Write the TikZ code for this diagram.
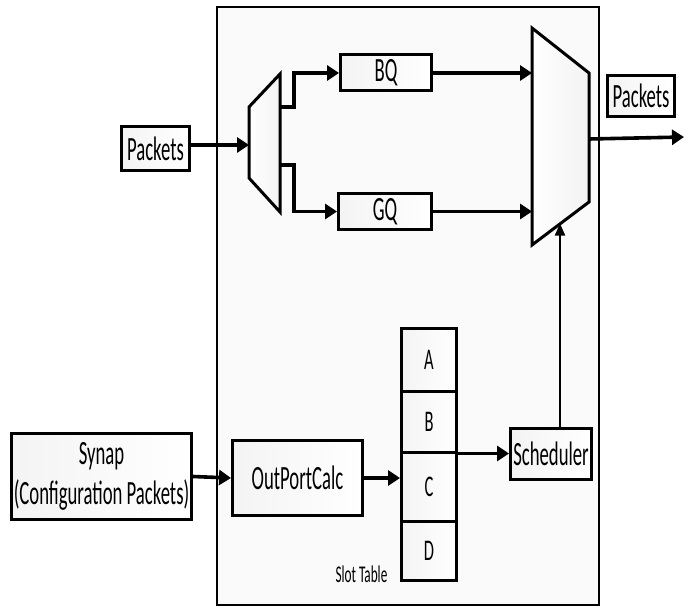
\documentclass[tikz,border=0pt]{standalone}
\usepackage{fontspec}
\setmainfont[FakeStretch=0.55]{Carlito}
\usetikzlibrary{arrows.meta}
\begin{document}
\begin{tikzpicture}[x=1pt,y=-1pt,
  blk/.style={draw,line width=3pt,left color=gray!9,right color=white,inner sep=0pt,
    font=\fontsize{34}{40}\selectfont,align=center},
  cell/.style={blk,font=\fontsize{30}{34}\selectfont,minimum width=55pt},
  mux/.style={draw,line width=3pt,left color=white,right color=gray!10,line join=miter},
  conn/.style={line width=3.6pt,-{Triangle[length=12pt,width=15pt]}},
  thinconn/.style={line width=2pt,-{Triangle[length=12pt,width=10pt]}},
  outline/.style={draw,line width=2.8pt,fill=gray!4}
]
\useasboundingbox (0,0) rectangle (684,607);
% outer box
\draw[outline] (217,7) rectangle (599,605);

% demux
\coordinate (dm1) at (249,107);
\coordinate (dm2) at (280,74);
\coordinate (dm3) at (280,212);
\coordinate (dm4) at (249,178);
\path[mux] (dm1) -- (dm2) -- (dm3) -- (dm4) -- cycle;
\coordinate (dmin) at (249,145);
\coordinate (dmo1) at (280,107);
\coordinate (dmo2) at (280,165);

% mux
\coordinate (mx1) at (532,28);
\coordinate (mx2) at (589,73);
\coordinate (mx3) at (589,202);
\coordinate (mx4) at (532,245);
\path[mux] (mx1) -- (mx2) -- (mx3) -- (mx4) -- cycle;
\coordinate (mxout) at (589,139);
\coordinate (mxsel) at (560,223.5);
\coordinate (outend) at (684,137);

% nodes
\node[blk,minimum width=68pt,minimum height=44pt] (pin) at (155.5,148.5) {Packets};
\node[blk,minimum width=91pt,minimum height=36pt] (bq) at (386,73) {BQ};
\node[blk,minimum width=93pt,minimum height=36pt] (gq) at (385,211.5) {GQ};
\node[blk,minimum width=67pt,minimum height=41pt] (pout) at (641,96) {Packets};
\node[blk,minimum width=180pt,minimum height=86pt] (synap) at (101.5,476.5) {Synap\\(Configuration Packets)};
\node[blk,minimum width=130pt,minimum height=75pt] (opc) at (297.5,478) {OutPortCalc};
\node[blk,minimum width=81pt,minimum height=51pt] (sched) at (551,454) {Scheduler};

\node[cell,minimum height=63pt] (sa) at (429,359.5) {A};
\node[cell,minimum height=61pt] (sb) at (429,421.5) {B};
\node[cell,minimum height=69pt] (sc) at (429,486.5) {C};
\node[cell,minimum height=59pt] (sd) at (429,550.5) {D};
\node[font=\fontsize{24}{28}\selectfont,inner sep=0pt] (slotlbl) at (361.5,574) {Slot Table};

% connectors
\draw[conn] ([yshift=3.5pt]pin.east) -- (dmin);
\draw[conn] (dmo1) -- (294,107) |- (bq.west);
\draw[conn] (dmo2) -- (294,165) |- (gq.west);
\draw[conn] (bq.east) -- (bq.east -| mx1);
\draw[conn] (gq.east) -- (gq.east -| mx1);
\draw[conn] (mxout) -- (outend);
\draw[conn] (synap.east) -- (opc.west);
\draw[conn] (opc.east) -- (opc.east -| sc.west);
\draw[conn] (sb.south east) -- (sb.south east -| sched.west);
\draw[thinconn] (sched.north -| mxsel) -- (mxsel);
\end{tikzpicture}
\end{document}
